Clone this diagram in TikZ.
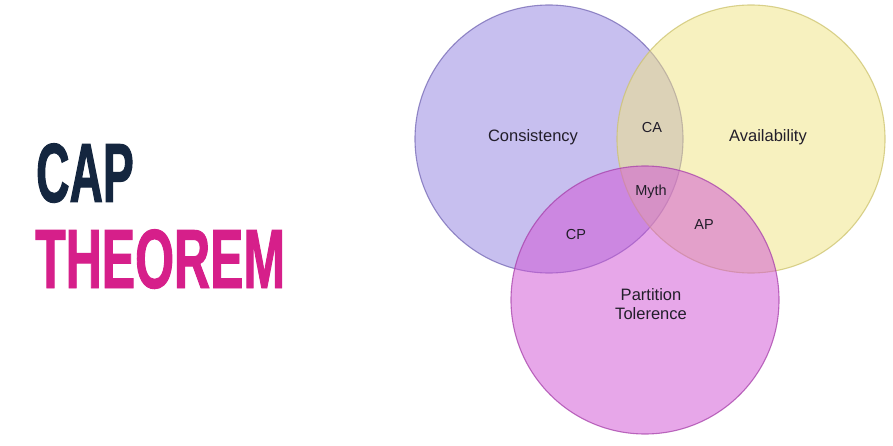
\documentclass[tikz,border=0pt]{standalone}
\usepackage{fontspec}
\setmainfont{Liberation Sans}
\newfontfamily\titlefont[FakeStretch=0.55,FakeBold=1.1]{Liberation Sans Bold}
\usetikzlibrary{positioning}
\definecolor{capnavy}{HTML}{14263F}
\definecolor{capmagenta}{HTML}{D61F8A}
\definecolor{consblue}{HTML}{9181E1}
\definecolor{availyellow}{HTML}{F1E581}
\definecolor{partpink}{HTML}{D151D5}
\definecolor{labelink}{HTML}{221E2A}

\begin{document}
\begin{tikzpicture}[
      x=1pt, y=-1pt,
      setcircle/.style={circle, minimum size=268pt, inner sep=0pt, line width=1.1pt, fill opacity=0.5, draw opacity=0.75},
      biglabel/.style={font=\fontsize{16.5}{19}\selectfont, text=labelink, align=center, inner sep=0pt},
      smalllabel/.style={font=\fontsize{14.5}{17}\selectfont, text=labelink, inner sep=0pt},
      titletext/.style={font=\titlefont\fontsize{84}{84}\selectfont, inner sep=0pt, anchor=base west},
    ]
    \useasboundingbox (0,0) rectangle (893,446);
    \fill[white] (0,0) rectangle (893,446);

    % Title
    \node[titletext, text=capnavy] (cap) at (36,202) {CAP};
    \node[titletext, text=capmagenta] (theorem) at (35,288) {\addfontfeature{FakeStretch=0.595}THEOREM};

    % The three sets
    \node[setcircle, fill=consblue, draw=consblue!80!black] (cons) at (549,139) {};
    \node[setcircle, fill=availyellow, draw=availyellow!85!black] (avail) at (751,139) {};
    \node[setcircle, fill=partpink, draw=partpink!80!black] (part) at (645,300) {};

    % Set names
    \node[biglabel] (consname) at (533,137) {Consistency};
    \node[biglabel] (availname) at (768,137) {Availability};
    \node[biglabel] (partname) at (651,304) {Partition\\Tolerence};

    % Overlaps
    \node[smalllabel] (ca) at (652,128) {CA};
    \node[smalllabel] (myth) at (651,192) {Myth};
    \node[smalllabel] (cp) at (576,235) {CP};
    \node[smalllabel] (ap) at (704,225) {AP};
  \end{tikzpicture}
\end{document}
